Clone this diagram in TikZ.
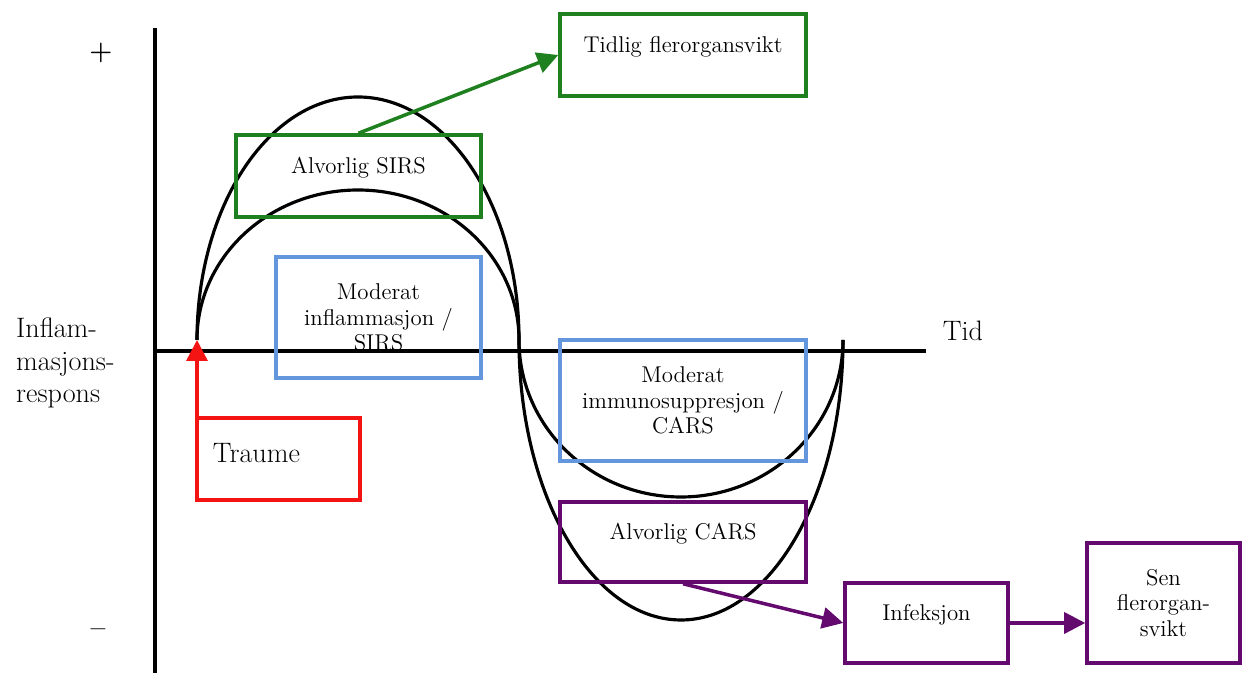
\documentclass[tikz,border=0pt]{standalone}
\usetikzlibrary{arrows.meta}

\definecolor{sirsgreen}{RGB}{30,128,30}
\definecolor{modblue}{RGB}{100,150,222}
\definecolor{traumered}{RGB}{245,20,20}
\definecolor{carspurple}{RGB}{100,10,110}

\begin{document}
\begin{tikzpicture}[
        box/.style={draw, rectangle, line width=2pt, align=center, inner sep=2pt, font=\fontsize{13}{14.5}\selectfont},
        green box/.style={box, draw=sirsgreen, minimum width=4.9cm, minimum height=1.64cm, text depth=12pt},
        blue box/.style={box, draw=modblue, minimum height=2.42cm},
        purple box/.style={box, draw=carspurple},
        axis/.style={line width=2pt},
        curve/.style={line width=1.8pt},
        tip/.style={-{Triangle[length=0.42cm, width=0.42cm]}, line width=2pt},
        big/.style={font=\fontsize{16}{18.5}\selectfont}
    ]
    \useasboundingbox (-3.10,-6.44) rectangle (21.74,7.02);

    % Akser
    \coordinate (top) at (0,6.46);
    \coordinate (bottom) at (0,-6.44);
    \coordinate (origo) at (0,0);
    \coordinate (tidend) at (15.42,0);
    \draw[axis] (top) -- (bottom);
    \draw[axis] (origo) -- (tidend);
    \node (pluss) at (-1.08,5.96) {\fontsize{15}{17}\selectfont\bfseries +};
    \node (minus) at (-1.14,-5.64) {\fontsize{15}{17}\selectfont\bfseries --};
    \node (respons) [big, anchor=west, align=left] at (-2.90,-0.24) {Inflam-\\masjons-\\respons};
    \node (tid) [big] at (16.16,0.40) {Tid};

    % Kurvene (SIRS over aksen, CARS under)
    \coordinate (start) at (0.84,0.22);
    \draw[curve] (start) arc[start angle=180, end angle=0, x radius=3.22, y radius=4.86]
        arc[start angle=180, end angle=360, x radius=3.24, y radius=5.60];
    \draw[curve] (start) arc[start angle=180, end angle=0, x radius=3.22, y radius=3.00]
        arc[start angle=180, end angle=360, x radius=3.24, y radius=3.14];

    % Boksene
    \node (tidlig) [green box, minimum width=4.92cm] at (10.56,5.92) {Tidlig flerorgansvikt};
    \node (sirs) [green box] at (4.07,3.50) {Alvorlig SIRS};
    \node (modinfl) [blue box, minimum width=4.10cm] at (4.47,0.67) {Moderat\\inflammasjon /\\SIRS};
    \node (modimm) [blue box, minimum width=4.92cm] at (10.56,-0.99) {Moderat\\immunosuppresjon /\\CARS};
    \node (cars) [purple box, minimum width=4.92cm, minimum height=1.60cm, text depth=12pt] at (10.56,-3.82) {Alvorlig CARS};
    \node (infek) [purple box, minimum width=3.26cm, minimum height=1.60cm, text depth=12pt] at (15.43,-5.44) {Infeksjon};
    \node (sen) [purple box, minimum width=3.06cm, minimum height=2.40cm] at (20.17,-5.04) {Sen\\flerorgan-\\svikt};
    \node (traume) [box, big, draw=traumered, align=left, text width=2.62cm, inner xsep=0.32cm,
        minimum height=1.64cm, text depth=7pt] at (2.47,-2.16) {Traume};

    % Piler
    \draw[tip, sirsgreen] (sirs.north) -- (tidlig.west);
    \draw[tip, traumered] (traume.north west -| start) -- (start);
    \draw[tip, carspurple] (cars.south) -- (infek.west);
    \draw[tip, carspurple] (infek.east) -- (infek.east -| sen.west);
\end{tikzpicture}
\end{document}
